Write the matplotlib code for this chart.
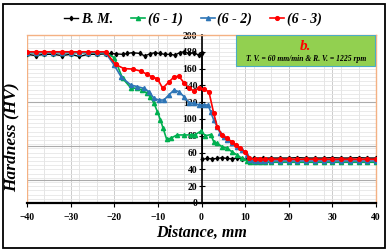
import numpy as np
import matplotlib.pyplot as plt
from matplotlib.patches import Rectangle

# DATA
x_flat_left = [-40, -38, -36, -34, -32, -30, -28, -26, -24, -22]
x_flat_right = [16, 18, 20, 22, 24, 26, 28, 30, 32, 34, 36, 38, 40]

bm_x = x_flat_left + [-20.8, -19.5, -18.1, -17.0, -15.8, -14.1, -13.0, -11.9, -10.7, -9.6,
                      -8.4, -7.2, -6.1, -5.0, -4.0, -2.9, -1.8, -0.6, 0.1,
                      0.2, 1.3, 2.5, 3.6, 4.7, 5.9, 7.0, 8.2, 9.3, 10.4, 12, 14] + x_flat_right
bm_y = [177, 175.5, 177, 177, 175.5, 177, 174.5, 177, 177, 177.5] + \
       [178, 177.5, 177, 178, 179, 178, 175, 177.5, 179, 178,
        177, 177, 176, 179, 180, 178, 179, 176, 178,
        52, 53, 52.5, 53, 54, 53, 52.5, 53.5, 52.5, 52, 53.5, 53.5] + \
       [53.5, 53.5, 53.5, 54, 53.5, 53.5, 53.5, 54, 53.5, 53.5, 54, 53.5, 53.5]

s61_x = x_flat_left + [-20.0, -18.1, -16.2, -14.7, -13.6, -12.6, -11.7, -10.9, -10.1, -9.4,
                       -8.8, -8.0, -7.1, -5.6, -4.0, -2.5, -1.4, -0.1, 0.9, 2.1,
                       2.8, 3.6, 4.7, 5.9, 7.0, 8.2, 9.3, 10.4, 11.2, 12.2, 13.3, 14.5] + x_flat_right
s61_y = [179] * 10 + \
        [173, 148.5, 137, 136.5, 134.5, 131, 126.5, 118.7, 108.7, 98.8,
         89, 76, 77, 81, 81, 81, 81.5, 85.7, 80, 81.5,
         73, 71, 67, 65, 61, 57, 53, 50.5, 48.5, 48.5, 48.5, 48.5] + [48.5] * 13

s62_x = x_flat_left + [-20.0, -18.4, -16.2, -14.7, -13.2, -12.0, -10.9, -9.8, -8.6, -7.5,
                       -6.3, -5.2, -4.0, -2.9, -1.8, -0.6, 0.5, 1.5, 2.1, 2.8,
                       3.6, 4.3, 5.1, 5.9, 7.0, 8.2, 9.3, 10.4, 11.2, 12.2, 13.3, 14.5] + x_flat_right
s62_y = [179] * 10 + \
        [164, 150, 140.5, 138.5, 136.5, 132.5, 124.6, 122.6, 122.6, 128.6,
         134.5, 132.5, 126.6, 119.4, 118.7, 116.7, 116.7, 116.7, 108.7, 98.8,
         90.8, 83, 79, 75, 71, 67, 63, 57, 51, 50, 50, 50] + [50] * 13

s63_x = x_flat_left + [-19.7, -17.8, -15.8, -13.9, -12.4, -11.3, -10.1, -8.9, -7.5, -6.3,
                       -5.2, -4.0, -2.9, -1.8, -0.6, 0.5, 1.7, 2.8, 3.6, 4.7,
                       5.8, 7.0, 7.8, 8.9, 10.0, 11.0, 12.2, 13.3, 14.5] + x_flat_right
s63_y = [180] * 10 + \
        [165, 160, 159.5, 157, 153, 150, 148, 136.5, 144, 150,
         151, 143, 136.5, 133.7, 136.5, 135.5, 132.5, 106.8, 90.8, 81,
         77, 73, 69, 65, 61, 53, 52, 52, 52] + [52] * 13

x_ticks = [-40, -30, -20, -10, 0, 10, 20, 30, 40]
y_ticks = [0, 20, 40, 60, 80, 100, 120, 140, 160, 180, 200]
dark_grid_y = [120.6, 68, 27.4]

serif = 'Liberation Serif'

fig = plt.figure(figsize=(3.88, 2.52), dpi=100)
ax = fig.add_axes([27 / 388, 49 / 252, 349 / 388, 168 / 252])
ax.set_xlim(-40, 40)
ax.set_ylim(0, 200)

# gridlines
for v in np.arange(-40, 41, 4):
    ax.axvline(v, color='#E0E0E0', lw=0.6, zorder=0)
for v in np.arange(-40, 41, 10):
    ax.axvline(v, color='#CCCCCC', lw=0.7, zorder=0)
for v in np.arange(0, 201, 5):
    ax.axhline(v, color='#E6E6E6', lw=0.6, zorder=0)
for v in dark_grid_y:
    ax.axhline(v, color='#ABABAB', lw=0.8, zorder=0)

# series
ax.plot(bm_x, bm_y, color='black', lw=1.0, marker='d', ms=2.3, zorder=3, label='B. M.')
ax.plot(s61_x, s61_y, color='#00B050', lw=1.2, marker='^', ms=3.0, zorder=4, label='(6 - 1)')
ax.plot(s62_x, s62_y, color='#2E75B6', lw=1.2, marker='^', ms=3.0, zorder=5, label='(6 - 2)')
ax.plot(s63_x, s63_y, color='#FF0000', lw=1.2, marker='o', ms=2.7, zorder=6, label='(6 - 3)')

# spines: plot-area border light orange, y axis at x = 0
for side in ['top', 'right']:
    ax.spines[side].set_color('#F4B183')
    ax.spines[side].set_linewidth(1.0)
ax.spines['left'].set_position(('data', 0))
ax.spines['left'].set_color('black')
ax.spines['left'].set_linewidth(1.2)
ax.spines['left'].set_zorder(2)
ax.spines['bottom'].set_linewidth(1.6)
ax.axvline(-40, color='#F4B183', lw=1.0, zorder=1)

ax.set_xticks(x_ticks)
ax.set_yticks(y_ticks)
ax.tick_params(axis='y', direction='inout', length=4, width=0.8, pad=1)
ax.tick_params(axis='x', direction='out', length=3, width=0.8, pad=4)
for lab in ax.get_xticklabels() + ax.get_yticklabels():
    lab.set_fontfamily(serif)
    lab.set_fontweight('bold')
    lab.set_fontsize(7)

ax.set_xlabel('Distance, mm', fontfamily=serif, fontweight='bold', fontstyle='italic',
              fontsize=11.5, labelpad=2)
fig.text(12 / 388, 1 - 137 / 252, 'Hardness (HV)', rotation=90, ha='center', va='center',
         fontfamily=serif, fontweight='bold', fontstyle='italic', fontsize=12.5)

# annotation box
ax.add_patch(Rectangle((8, 163), 31.8, 37, facecolor='#92D050', edgecolor='#4BACC6',
                       lw=0.8, zorder=7))
ax.text(23.9, 186, 'b.', color='#FF0000', ha='center', va='center', fontfamily=serif,
        fontweight='bold', fontstyle='italic', fontsize=11, zorder=8)
ax.text(23.9, 171.5, 'T. V. = 60 mm/min & R. V. = 1225 rpm', color='black', ha='center',
        va='center', fontfamily=serif, fontweight='bold', fontstyle='italic', fontsize=5.5,
        zorder=8)

fig.legend(loc='center', bbox_to_anchor=(193 / 388, 1 - 19 / 252), ncol=4, frameon=False,
           handlelength=1.0, handletextpad=0.2, columnspacing=1.3,
           prop={'family': serif, 'weight': 'bold', 'style': 'italic', 'size': 10})

# outer chart border
fig.patches.append(Rectangle((3 / 388, 4 / 252), 382 / 388, 244 / 252, transform=fig.transFigure,
                             fill=False, edgecolor='black', lw=1.3))

fig.savefig('out.png', dpi=100)
